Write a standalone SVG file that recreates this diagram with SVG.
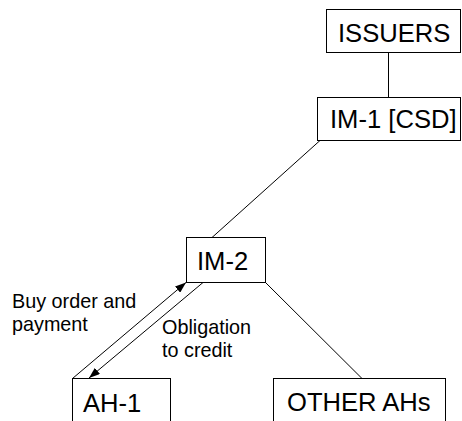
<svg xmlns="http://www.w3.org/2000/svg" width="462" height="421" viewBox="0 0 462 421">
<style>
.box{fill:#fff;stroke:#000;stroke-width:1}
.t{font-family:"Liberation Sans",Arial,sans-serif;font-size:25.6px;fill:#000}
.l{font-family:"Liberation Sans",Arial,sans-serif;font-size:19.8px;fill:#000}
.c{stroke:#000;stroke-width:1;fill:none}
</style>
<defs>
<marker id="ah" viewBox="0 0 11 8" refX="11" refY="4" markerWidth="11" markerHeight="8" markerUnits="userSpaceOnUse" orient="auto">
<path d="M0,0 L11,4 L0,8 Z" fill="#000"/>
</marker>
</defs>
<rect width="462" height="421" fill="#fff"/>
<g id="connectors">
<line class="c" x1="388.5" y1="52.5" x2="388.5" y2="97.5"/>
<line class="c" x1="320" y1="140.5" x2="212" y2="237.5"/>
<line class="c" x1="265.5" y1="282.5" x2="362" y2="378.5"/>
<line class="c" x1="72.5" y1="378.5" x2="186" y2="282.5" marker-end="url(#ah)"/>
<line class="c" x1="203" y1="282.5" x2="89" y2="378" marker-end="url(#ah)"/>
<text class="l" x="12" y="308">Buy order and</text>
<text class="l" x="12" y="331">payment</text>
<text class="l" x="162" y="334">Obligation</text>
<text class="l" x="162" y="357">to credit</text>
</g>
<g id="issuers">
<rect class="box" x="326.5" y="9.5" width="134" height="43"/>
<text class="t" x="338" y="42">ISSUERS</text>
</g>
<g id="im1">
<rect class="box" x="317.5" y="97.5" width="143" height="43"/>
<text class="t" x="330" y="128">IM-1 [CSD]</text>
</g>
<g id="im2">
<rect class="box" x="186.5" y="237.5" width="79" height="45"/>
<text class="t" x="197" y="270">IM-2</text>
</g>
<g id="ah1">
<rect class="box" x="72.5" y="378.5" width="98" height="60"/>
<text class="t" x="83" y="412">AH-1</text>
</g>
<g id="otherahs">
<rect class="box" x="273.5" y="378.5" width="172" height="60"/>
<text class="t" x="287" y="411">OTHER AHs</text>
</g>
</svg>
